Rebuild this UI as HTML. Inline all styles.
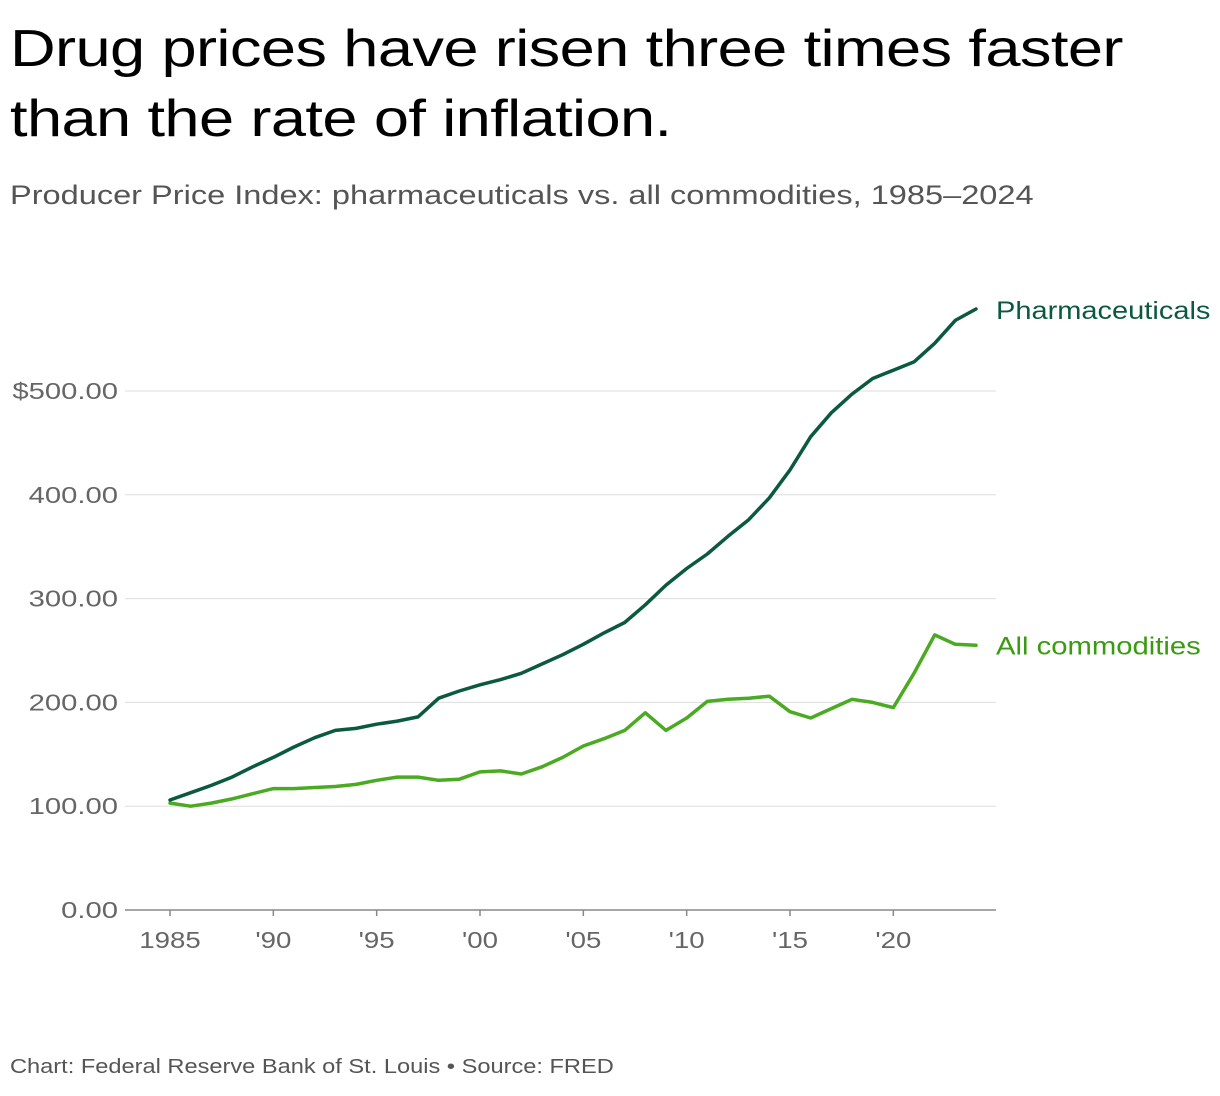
<!DOCTYPE html>
<html><head><meta charset="utf-8"><style>
body{margin:0;background:#fff;width:1220px;height:1096px;overflow:hidden;font-family:"Liberation Sans",sans-serif}
#title{position:absolute;left:10px;top:14px;font-size:52px;line-height:70px;color:#000;margin:0;font-weight:500;letter-spacing:-0.5px;transform:scaleX(1.215);transform-origin:0 0;white-space:nowrap}
#sub{position:absolute;left:10px;top:180px;font-size:27px;color:#555;transform:scaleX(1.205);transform-origin:0 0;white-space:nowrap}
#foot{position:absolute;left:10px;top:1056px;font-size:20px;color:#555;transform:scaleX(1.18);transform-origin:0 0;white-space:nowrap}
svg{position:absolute;left:0;top:0}
</style></head><body>
<h1 id="title">Drug prices have risen three times faster<br>than the rate of inflation.</h1>
<div id="sub">Producer Price Index: pharmaceuticals vs. all commodities, 1985–2024</div>
<div id="foot">Chart: Federal Reserve Bank of St. Louis • Source: FRED</div>
<svg id="chart" width="1220" height="1096"></svg>
<script>
const years=[];for(let y=1985;y<=2024;y++)years.push(y);
const pharma=[106,113,120,128,138,147,157,166,173,175,179,182,186,204,211,217,222,228,237,246,256,267,277,294,313,329,343,360,376,397,424,456,479,497,512,520,528,546,568,579];
const commod=[103,100,103,107,112,117,117,118,119,121,125,128,128,125,126,133,134,131,138,147,158,165,173,190,173,185,201,203,204,206,191,185,194,203,200,195,228,265,256,255];
const yTicks=[0,100,200,300,400,500];
const yLabels=["0.00","100.00","200.00","300.00","400.00","$500.00"];
const xTicks=[1985,1990,1995,2000,2005,2010,2015,2020];
const xLabels=["1985","'90","'95","'00","'05","'10","'15","'20"];
const X=y=>170+(y-1985)*(976-170)/39;
const Y=v=>910-v*1.038;
const svg=document.getElementById('chart');const NS='http://www.w3.org/2000/svg';
function mk(t,a){const e=document.createElementNS(NS,t);for(const k in a)e.setAttribute(k,a[k]);svg.appendChild(e);return e;}
function stretch(t,f){const w=t.getComputedTextLength();t.setAttribute('textLength',(w*f).toFixed(1));t.setAttribute('lengthAdjust','spacingAndGlyphs');}
yTicks.forEach((v,i)=>{
 if(v>0){const g=mk('line',{x1:125,x2:996,y1:Y(v),y2:Y(v),stroke:'#ddd','stroke-width':1});
 
 }
 const t=mk('text',{x:118,y:Y(v)+8,'text-anchor':'end','font-size':23,fill:'#666','font-family':'Liberation Sans, sans-serif'});
 t.textContent=yLabels[i];
 stretch(t,1.27);
 
 
});
const ax=mk('line',{x1:125,x2:996,y1:910,y2:910,stroke:'#888','stroke-width':1.5});


xTicks.forEach((v,i)=>{
 const tk=mk('line',{x1:X(v),x2:X(v),y1:910,y2:916,stroke:'#888','stroke-width':1.5});
 
 
 const t=mk('text',{x:X(v),y:948,'text-anchor':'middle','font-size':23,fill:'#666','font-family':'Liberation Sans, sans-serif'});
 t.textContent=xLabels[i];
 stretch(t,1.2);
 
 
});
function line(data,color,name){
 const d=data.map((v,i)=>(i?'L':'M')+X(years[i]).toFixed(1)+','+Y(v).toFixed(1)).join('');
 const p=mk('path',{d:d,fill:'none',stroke:color,'stroke-width':3.5,'stroke-linejoin':'round','stroke-linecap':'round'});
 
 
}
line(commod,'#4aaa22','all-commodities-line');
line(pharma,'#0b5a3e','pharmaceuticals-line');
const l1=mk('text',{x:996,y:Y(pharma[pharma.length-1])+10,'font-size':25,fill:'#0b5a3e','font-family':'Liberation Sans, sans-serif'});
l1.textContent='Pharmaceuticals';
stretch(l1,1.16);


const l2=mk('text',{x:996,y:Y(commod[commod.length-1])+9,'font-size':25,fill:'#3a9a12','font-family':'Liberation Sans, sans-serif'});
l2.textContent='All commodities';
stretch(l2,1.17);


</script>
</body></html>
